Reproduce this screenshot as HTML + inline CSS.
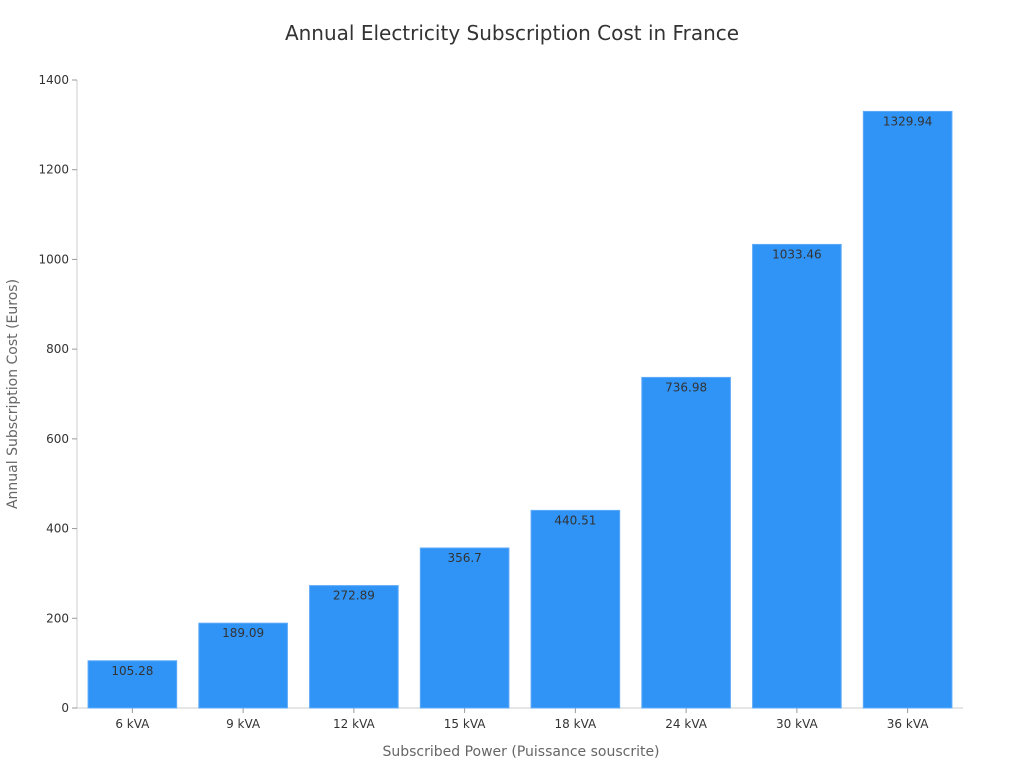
<!DOCTYPE html>
<html><head><meta charset="utf-8"><style>
body{margin:0;background:#fff;}
svg{display:block;font-family:"DejaVu Sans","Liberation Sans",sans-serif;}
</style></head><body>
<svg id="chart" width="1024" height="768">
<text x="512" y="40" text-anchor="middle" font-size="20" fill="#333">Annual Electricity Subscription Cost in France</text>
<text x="521" y="756" text-anchor="middle" font-size="14" fill="#666">Subscribed Power (Puissance souscrite)</text>
<text transform="translate(17,394) rotate(-90)" text-anchor="middle" font-size="14" fill="#666">Annual Subscription Cost (Euros)</text>
<g id="axes"></g><g id="bars"></g>
</svg>
<script>
const categories=["6 kVA","9 kVA","12 kVA","15 kVA","18 kVA","24 kVA","30 kVA","36 kVA"];
const values=[105.28,189.09,272.89,356.7,440.51,736.98,1033.46,1329.94];
const labels=["105.28","189.09","272.89","356.7","440.51","736.98","1033.46","1329.94"];
const yTicks=[0,200,400,600,800,1000,1200,1400];
const NS="http://www.w3.org/2000/svg";
const L=77,R=963,T=80,B=708,YMAX=1400;
const band=(R-L)/categories.length;
function y(v){return B-(v/YMAX)*(B-T);}
function xc(i){return L+band*(i+0.5);}
function mk(tag,attrs,parent){const e=document.createElementNS(NS,tag);for(const k in attrs)e.setAttribute(k,attrs[k]);parent.appendChild(e);return e;}
const ax=document.getElementById('axes'),bg=document.getElementById('bars');
const yl=mk('line',{x1:L,x2:L,y1:T,y2:B,stroke:'#ccc'},ax);


const xl=mk('line',{x1:L,x2:R,y1:B,y2:B,stroke:'#ccc'},ax);


yTicks.forEach(t=>{
  mk('line',{x1:L-5,x2:L,y1:y(t),y2:y(t),stroke:'#999'},ax);
  const tx=mk('text',{x:L-8,y:y(t)+4,'text-anchor':'end','font-size':12,fill:'#333'},ax);
  tx.textContent=t;
  
  
});
categories.forEach((c,i)=>{
  const w=band*0.8;
  mk('line',{x1:xc(i),x2:xc(i),y1:B,y2:B+5,stroke:'#999'},ax);
  const tl=mk('text',{x:xc(i),y:B+20,'text-anchor':'middle','font-size':12,fill:'#333'},ax);
  tl.textContent=c;
  
  
  const r=mk('rect',{x:xc(i)-w/2,y:y(values[i]),width:w,height:B-y(values[i]),fill:'#3094f7',stroke:'#5eaaf8','stroke-width':1},bg);
  
  
  const vl=mk('text',{x:xc(i),y:y(values[i])+14,'text-anchor':'middle','font-size':12,fill:'#333'},bg);
  vl.textContent=labels[i];
  
  
});
</script>
</body></html>
